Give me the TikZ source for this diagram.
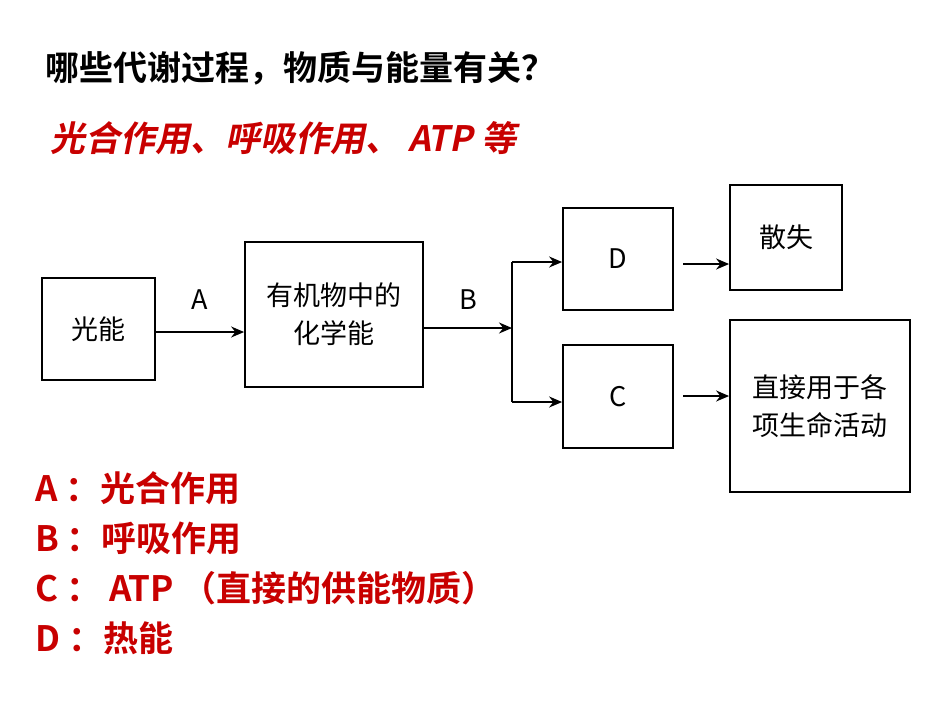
\documentclass[tikz,border=0pt]{standalone}
\usepackage{fontspec}
\newfontfamily\cjk{Noto Sans CJK SC}
\newfontfamily\cjkb{Noto Sans CJK SC Bold}
\newfontfamily\cjkit{Noto Sans CJK SC Bold}[FakeSlant=0.2]
\usetikzlibrary{arrows.meta}
\definecolor{myred}{RGB}{200,0,0}
\begin{document}
\begin{tikzpicture}[x=1pt,y=-1pt,
  bx/.style={draw,line width=1.8pt,inner sep=0pt,font=\cjk\fontsize{27}{38}\selectfont,align=center},
  ar/.style={line width=1.8pt,-{Stealth[length=13pt,width=11pt]}},
  lg/.style={anchor=west,text=myred,font=\cjkb\fontsize{35}{38}\selectfont,inner sep=0pt}]
\useasboundingbox (0,0) rectangle (950,713);
\node[anchor=west,inner sep=0pt,font=\cjkb\fontsize{34}{36}\selectfont] (t) at (45,68) {哪些代谢过程，物质与能量有关？};
\node[anchor=west,inner sep=0pt,text=myred,font=\cjkit\fontsize{35}{38}\selectfont] (s) at (50,138) {光合作用、呼吸作用、 ATP 等};
\node[bx,minimum width=113pt,minimum height=102pt] (g) at (98.5,329) {光能};
\node[bx,minimum width=178pt,minimum height=145pt] (h) at (334,314.5) {有机物中的\\化学能};
\node[bx,minimum width=110pt,minimum height=102pt] (d) at (618,259) {D};
\node[bx,minimum width=110pt,minimum height=103pt] (c) at (618,396.5) {C};
\node[bx,minimum width=112pt,minimum height=105pt] (s1) at (786,237.5) {散失};
\node[bx,minimum width=180pt,minimum height=172pt] (s2) at (820,406) {直接用于各\\项生命活动};
\coordinate (j) at (512,328);
\coordinate (jt) at (512,262);
\coordinate (jb) at (512,402);
\draw[ar] (g.east |- 0,332) -- (h.west |- 0,332) node[midway,above=18pt,font=\cjk\fontsize{27}{30}\selectfont] (la) {A};
\draw[ar] (h.east |- j) -- (j) node[midway,above=14pt,font=\cjk\fontsize{27}{30}\selectfont] (lb) {B};
\draw[line width=1.8pt] (jt) -- (jb);
\draw[ar] (jt) -- (d.west |- jt);
\draw[ar] (jb) -- (c.west |- jb);
\draw[ar] (683,264) -- (s1.west |- 0,264);
\draw[ar] (683,396) -- (s2.west |- 0,396);
\node[lg] (l1) at (35,488) {A ：光合作用};
\node[lg] (l2) at (35,538) {B ：呼吸作用};
\node[lg] (l3) at (35,588) {C ： ATP （直接的供能物质）};
\node[lg] (l4) at (35,638) {D ：热能};
\end{tikzpicture}
\end{document}
